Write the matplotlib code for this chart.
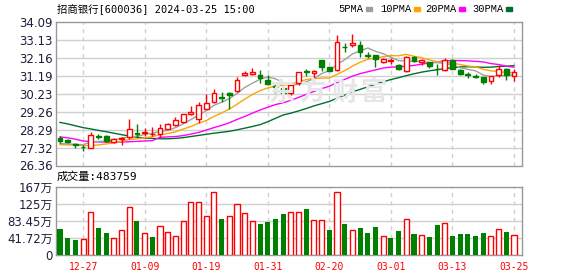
import matplotlib
matplotlib.use("Agg")
import matplotlib.pyplot as plt
from matplotlib.patches import Rectangle

# ---- data ----
dates = ["12-22", "12-25", "12-26", "12-27", "12-28", "12-29",
         "01-02", "01-03", "01-04", "01-05", "01-08", "01-09", "01-10", "01-11",
         "01-12", "01-15", "01-16", "01-17", "01-18", "01-19", "01-22", "01-23",
         "01-24", "01-25", "01-26", "01-29", "01-30", "01-31",
         "02-01", "02-02", "02-05", "02-06", "02-07", "02-08", "02-19", "02-20",
         "02-21", "02-22", "02-23", "02-26", "02-27", "02-28", "02-29",
         "03-01", "03-04", "03-05", "03-06", "03-07", "03-08", "03-11", "03-12",
         "03-13", "03-14", "03-15", "03-18", "03-19", "03-20", "03-21", "03-22",
         "03-25"]
opens = [27.86, 27.72, 27.52, 27.36, 27.30, 27.93, 27.94, 27.64, 27.80, 27.87,
         28.12, 28.10, 28.06, 28.04, 28.35, 28.55, 28.68, 29.15, 28.85, 29.42,
         29.80, 30.04, 30.24, 30.39, 31.22, 31.30, 31.25, 30.95, 30.64, 30.52,
         30.24, 30.79, 31.43, 31.36, 32.03, 31.66, 31.49, 32.77, 32.86, 32.86,
         32.33, 32.32, 31.96, 32.00, 31.75, 31.45, 32.19, 31.93, 31.93, 31.58,
         31.52, 32.02, 31.52, 31.31, 31.17, 31.14, 30.91, 31.26, 31.54, 31.19]
highs = [27.95, 27.81, 27.56, 27.45, 28.18, 28.08, 27.99, 27.86, 27.92, 28.84,
         28.57, 28.38, 28.44, 28.62, 28.66, 28.98, 29.15, 29.58, 29.76, 30.22,
         30.50, 30.33, 30.33, 31.13, 31.44, 31.60, 31.48, 31.22, 30.81, 30.60,
         30.80, 31.38, 31.58, 31.49, 32.03, 31.66, 33.37, 32.98, 33.42, 33.07,
         32.46, 32.32, 32.16, 32.14, 31.84, 32.28, 32.28, 32.10, 31.96, 31.84,
         32.16, 32.07, 31.58, 31.40, 31.31, 31.14, 31.19, 31.79, 31.61, 31.54]
lows = [27.55, 27.55, 27.30, 27.12, 27.28, 27.78, 27.60, 27.55, 27.44, 27.80,
        27.91, 27.93, 27.93, 27.92, 28.30, 28.48, 28.65, 29.10, 28.66, 29.38,
        29.73, 29.80, 29.43, 30.30, 31.18, 31.25, 30.83, 30.67, 30.25, 29.76,
        30.14, 30.70, 31.19, 31.10, 31.45, 31.44, 31.45, 32.46, 32.77, 32.19,
        32.14, 31.66, 31.89, 31.84, 31.49, 31.40, 31.93, 31.79, 31.61, 31.26,
        31.44, 31.54, 31.22, 31.08, 31.05, 30.75, 30.73, 31.14, 30.96, 30.91]
closes = [27.69, 27.63, 27.44, 27.33, 28.02, 27.90, 27.66, 27.80, 27.84, 28.30,
          28.07, 28.14, 28.08, 28.40, 28.57, 28.83, 29.12, 29.24, 29.60, 29.75,
          30.27, 30.00, 30.18, 30.99, 31.36, 31.42, 31.08, 30.73, 30.58, 30.29,
          30.68, 31.38, 31.40, 31.45, 31.66, 31.47, 33.02, 32.72, 32.98, 32.46,
          32.28, 32.10, 32.08, 32.02, 31.56, 32.23, 31.98, 32.02, 31.72, 31.54,
          32.02, 31.58, 31.31, 31.26, 31.12, 30.87, 31.19, 31.58, 31.26, 31.37]
ma5 = [27.55, 27.52, 27.50, 27.48, 27.62, 27.66, 27.67, 27.74, 27.84, 27.90,
       27.93, 28.03, 28.09, 28.20, 28.25, 28.40, 28.60, 28.83, 29.07, 29.31,
       29.60, 29.77, 29.96, 30.24, 30.56, 30.79, 31.01, 31.12, 31.03, 30.82,
       30.67, 30.73, 30.87, 31.04, 31.31, 31.47, 31.80, 32.06, 32.37, 32.53,
       32.69, 32.51, 32.38, 32.19, 32.01, 32.00, 31.97, 31.96, 31.90, 31.90,
       31.86, 31.78, 31.63, 31.54, 31.46, 31.23, 31.15, 31.20, 31.20, 31.25]
ma10 = [27.48, 27.47, 27.46, 27.44, 27.43, 27.47, 27.52, 27.58, 27.66, 27.76,
        27.80, 27.85, 27.91, 28.02, 28.08, 28.17, 28.32, 28.46, 28.64, 28.78,
        29.00, 29.19, 29.40, 29.66, 29.93, 30.19, 30.39, 30.54, 30.64, 30.69,
        30.73, 30.87, 30.99, 31.04, 31.07, 31.07, 31.27, 31.47, 31.71, 31.92,
        32.08, 32.15, 32.22, 32.28, 32.27, 32.35, 32.24, 32.17, 32.05, 31.95,
        31.93, 31.88, 31.80, 31.72, 31.68, 31.54, 31.46, 31.42, 31.37, 31.36]
ma20 = [27.90, 27.85, 27.78, 27.68, 27.65, 27.63, 27.62, 27.62, 27.62, 27.64,
        27.66, 27.68, 27.70, 27.88, 27.90, 27.92, 27.97, 28.05, 28.14, 28.27,
        28.40, 28.52, 28.66, 28.84, 29.00, 29.18, 29.35, 29.50, 29.64, 29.74,
        29.87, 30.03, 30.19, 30.35, 30.50, 30.63, 30.83, 31.00, 31.17, 31.31,
        31.41, 31.51, 31.61, 31.66, 31.67, 31.71, 31.75, 31.82, 31.88, 31.94,
        32.00, 32.01, 32.01, 32.00, 31.97, 31.94, 31.85, 31.80, 31.71, 31.65]
ma30 = [28.68, 28.60, 28.50, 28.40, 28.33, 28.25, 28.18, 28.10, 28.02, 27.95,
        27.88, 27.84, 27.82, 27.80, 27.80, 27.82, 27.86, 27.92, 27.98, 28.04,
        28.10, 28.15, 28.20, 28.28, 28.37, 28.46, 28.56, 28.72, 28.90, 29.08,
        29.18, 29.30, 29.43, 29.57, 29.69, 29.81, 29.99, 30.15, 30.33, 30.46,
        30.60, 30.74, 30.87, 30.99, 31.09, 31.20, 31.30, 31.39, 31.46, 31.52,
        31.58, 31.63, 31.67, 31.68, 31.67, 31.65, 31.66, 31.69, 31.71, 31.74]
volumes = [63.5, 41.5, 36.6, 40.7, 106.6, 66.0, 53.7, 43.0, 62.7, 118.8,
           83.0, 55.4, 45.6, 72.4, 57.8, 48.0, 84.7, 131.0, 131.0, 96.9,
           155.5, 89.5, 96.9, 124.5, 102.6, 84.7, 75.7, 80.6, 87.9, 100.0,
           106.6, 106.6, 112.3, 87.1, 87.1, 61.0, 155.5, 75.7, 62.7, 66.0,
           53.7, 68.4, 48.0, 41.5, 58.6, 89.5, 51.3, 50.5, 44.0, 73.3,
           78.1, 46.4, 51.3, 51.3, 46.4, 53.7, 48.0, 65.1, 56.2, 48.4]
vol_up = [0, 0, 0, 1, 1, 0, 0, 1, 1, 1, 0, 1, 0, 1, 1, 1, 1, 1, 1, 1,
          1, 0, 1, 1, 1, 1, 0, 0, 0, 0, 1, 1, 0, 1, 1, 0, 1, 0, 1, 0,
          0, 0, 1, 0, 0, 1, 0, 1, 0, 0, 1, 0, 0, 0, 0, 0, 1, 1, 0, 1]
price_ticks = [26.36, 27.32, 28.29, 29.26, 30.23, 31.19, 32.16, 33.13, 34.09]
vol_ticks = [0, 41.72, 83.45, 125.17, 166.88]
vol_tick_labels = ["0", "41.72万", "83.45万", "125万", "167万"]
label_dates = ["12-27", "01-09", "01-19", "01-31", "02-20", "03-01", "03-13", "03-25"]
ma_names = ["5PMA", "10PMA", "20PMA", "30PMA"]
ma_colors = ["#a0a0a0", "#ffa500", "#ff00ff", "#006f2e"]

RED = "#ff0000"
GREEN = "#008000"
GRID = "#d0d0d0"
FRAME = "#999999"
TXT = "#1e1e3c"
CJK = ["DejaVu Sans Mono", "Noto Sans CJK SC"]

W, H = 578, 276
fig = plt.figure(figsize=(W / 100, H / 100), dpi=100)
fig.patch.set_facecolor("white")


def box(l, t, r, b):
    return [l / W, 1 - b / H, (r - l) / W, (b - t) / H]


ax = fig.add_axes(box(56, 22, 522, 165.5))
axv = fig.add_axes(box(56, 187, 522, 255.3))
n = len(dates)
label_idx = [dates.index(d) for d in label_dates]

for a in (ax, axv):
    a.set_xlim(-0.52, n + 0.04)
    for s in a.spines.values():
        s.set_color(FRAME)
        s.set_linewidth(1)
    a.tick_params(length=0)
    for xi in label_idx:
        a.axvline(xi, color=GRID, lw=1, ls=(0, (3, 3)), zorder=0)

# ---- price panel ----
ax.set_ylim(price_ticks[0], price_ticks[-1])
ax.set_yticks(price_ticks)
ax.set_yticklabels([f"{t:.2f}" for t in price_ticks], color=TXT, fontsize=8.5)
ax.tick_params(axis="y", pad=2.5)
ax.set_xticks([])
for t in price_ticks[1:-1]:
    ax.axhline(t, color=GRID, lw=1, zorder=0)

# watermark
for ch, xx in zip("东方财富", [282, 312, 345, 373]):
    fig.text(xx / W, 1 - 93 / H, ch, family="Noto Sans CJK SC", fontsize=19,
             fontweight="bold", color="#e6e6e6", ha="center", va="center", zorder=0)

for vals, c in zip([ma30, ma20, ma10, ma5], ma_colors[::-1]):
    ax.plot(range(n), vals, color=c, lw=1, zorder=2)

bw = 0.62
for i in range(n):
    o, h, l, c = opens[i], highs[i], lows[i], closes[i]
    up = c >= o
    col = RED if up else GREEN
    ax.vlines(i, l, h, color=col, lw=1, zorder=3)
    lo, hgt = min(o, c), max(abs(c - o), 0.005)
    ax.add_patch(Rectangle((i - bw / 2, lo), bw, hgt,
                           facecolor="white" if up else GREEN,
                           edgecolor=col, lw=1, zorder=4))

# ---- volume panel ----
axv.set_ylim(vol_ticks[0], vol_ticks[-1])
axv.set_yticks(vol_ticks)
axv.set_yticklabels(vol_tick_labels, color=TXT, fontsize=8.5,
                    family=["DejaVu Sans", "Noto Sans CJK SC"])
axv.tick_params(axis="y", pad=2.5)
for t in vol_ticks[1:-1]:
    axv.axhline(t, color=GRID, lw=1, zorder=0)
for i in range(n):
    if vol_up[i]:
        axv.bar(i, volumes[i], width=0.66, facecolor="white", edgecolor=RED,
                lw=1, zorder=3)
    else:
        axv.bar(i, volumes[i], width=0.66, color=GREEN, lw=0, zorder=3)
axv.set_xticks(label_idx)
axv.set_xticklabels(label_dates, color=RED, fontsize=7, family="DejaVu Sans Mono")
axv.tick_params(axis="x", pad=5)

# ---- header texts ----
fig.text(57 / W, 1 - 9 / H, "招商银行[600036] 2024-03-25 15:00", family=CJK,
         fontsize=7.5, color="black", va="center", ha="left")
fig.text(57 / W, 1 - 177 / H, "成交量:483759", family=CJK, fontsize=8,
         color="black", va="center", ha="left")

leg_x = [338, 380, 425, 472]
for name, col, x0 in zip(ma_names, ma_colors, leg_x):
    fig.text(x0 / W, 1 - 9 / H, name, family="Liberation Mono", fontsize=7.5,
             color="black", va="center", ha="left")
    w = 0.6 * 7.5 / 72 * 100 * len(name)
    fig.patches.append(Rectangle(((x0 + w + 3) / W, 1 - 11 / H), 6 / W, 4 / H,
                                 transform=fig.transFigure, color=col))

fig.savefig("out.png", dpi=100)
